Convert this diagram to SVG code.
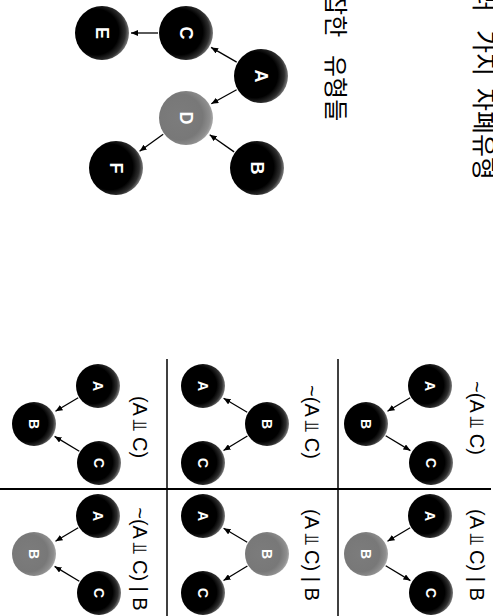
<svg xmlns="http://www.w3.org/2000/svg" width="493" height="616" viewBox="0 0 493 616">
<style>
.lbl{font-family:"Liberation Sans","DejaVu Sans",Arial,sans-serif;fill:#fff;font-weight:bold;text-anchor:middle}
.big{font-size:18px}
.sm{font-size:14px}
.cap{font-family:"Liberation Sans","DejaVu Sans",sans-serif;font-size:20px;fill:#000;text-anchor:middle}
.kr{font-family:"Noto Sans CJK KR","Noto Sans",sans-serif;fill:#000}
.e{stroke:#000;stroke-width:1.3;fill:none;marker-end:url(#arr)}
.grid{stroke:#000;fill:none}
</style>
<defs>
<radialGradient id="gB" cx="0.4" cy="0.47" r="0.64" fx="0.36" fy="0.5">
<stop offset="0" stop-color="#000"/>
<stop offset="0.66" stop-color="#000"/>
<stop offset="0.84" stop-color="#2e2e2e"/>
<stop offset="1" stop-color="#a8a8a8"/>
</radialGradient>
<radialGradient id="gG" cx="0.4" cy="0.47" r="0.64" fx="0.36" fy="0.5">
<stop offset="0" stop-color="#7c7c7c"/>
<stop offset="0.66" stop-color="#787878"/>
<stop offset="0.86" stop-color="#8e8e8e"/>
<stop offset="1" stop-color="#bdbdbd"/>
</radialGradient>
<marker id="arr" markerUnits="userSpaceOnUse" markerWidth="8" markerHeight="6" refX="7" refY="3" orient="auto">
<path d="M0,0 L7,3 L0,6 z" fill="#000"/>
</marker>
</defs>

<g id="titles">
<text class="kr" font-size="25" transform="translate(475,0) rotate(90)"><tspan x="-34" y="0">여러</tspan><tspan x="30" y="0">가지</tspan><tspan x="88" y="0">자폐유형</tspan></text>
<text class="kr" font-size="24" transform="translate(327,0) rotate(90)"><tspan x="-29" y="0">복잡한</tspan><tspan x="55" y="0">유형들</tspan></text>
</g>

<g id="grid">
<line class="grid" x1="167" y1="359" x2="167" y2="616" stroke-width="1.5"/>
<line class="grid" x1="338" y1="359" x2="338" y2="616" stroke-width="1.5"/>
<line class="grid" x1="0" y1="489" x2="491" y2="489" stroke-width="2"/>
</g>

<g id="connectors">
<line class="e" x1="158" y1="33" x2="131" y2="33"/>
<line class="e" x1="236.7" y1="62.1" x2="211.1" y2="47.4"/>
<line class="e" x1="236.6" y1="89.7" x2="211.3" y2="103.8"/>
<line class="e" x1="234.1" y1="151.9" x2="209.7" y2="134.7"/>
<line class="e" x1="163.2" y1="134.3" x2="139.6" y2="151.2"/>
<line class="e" x1="410.2" y1="397.8" x2="387.5" y2="411.2"/>
<line class="e" x1="385.7" y1="435.8" x2="410.4" y2="450.6"/>
<line class="e" x1="410.2" y1="527.8" x2="387.5" y2="541.2"/>
<line class="e" x1="385.7" y1="565.8" x2="410.4" y2="580.6"/>
<line class="e" x1="247.2" y1="412.2" x2="223.6" y2="398.3"/>
<line class="e" x1="247.4" y1="436" x2="223.5" y2="450.5"/>
<line class="e" x1="247.2" y1="542.2" x2="223.6" y2="528.3"/>
<line class="e" x1="247.4" y1="566" x2="223.5" y2="580.5"/>
<line class="e" x1="78.2" y1="397.8" x2="55.5" y2="411.2"/>
<line class="e" x1="79.3" y1="451.2" x2="54.6" y2="436.4"/>
<line class="e" x1="78.2" y1="527.8" x2="55.5" y2="541.2"/>
<line class="e" x1="79.3" y1="581.2" x2="54.6" y2="566.4"/>
</g>

<g id="node-E"><circle cx="102" cy="33" r="27" fill="url(#gB)"/><text class="lbl big" x="102" y="33" dy="6.5" transform="rotate(90 102 33)">E</text></g>
<g id="node-C"><circle cx="186" cy="33" r="27" fill="url(#gB)"/><text class="lbl big" x="186" y="33" dy="6.5" transform="rotate(90 186 33)">C</text></g>
<g id="node-A"><circle cx="261" cy="76" r="27" fill="url(#gB)"/><text class="lbl big" x="261" y="76" dy="6.5" transform="rotate(90 261 76)">A</text></g>
<g id="node-D"><circle cx="186" cy="118" r="27" fill="url(#gG)"/><text class="lbl big" x="186" y="118" dy="6.5" transform="rotate(90 186 118)">D</text></g>
<g id="node-B"><circle cx="257" cy="168" r="27" fill="url(#gB)"/><text class="lbl big" x="257" y="168" dy="6.5" transform="rotate(90 257 168)">B</text></g>
<g id="node-F"><circle cx="116" cy="168" r="27" fill="url(#gB)"/><text class="lbl big" x="116" y="168" dy="6.5" transform="rotate(90 116 168)">F</text></g>

<g id="c31-A"><circle cx="430" cy="386" r="22" fill="url(#gB)"/><text class="lbl sm" x="430" y="386" dy="5" transform="rotate(90 430 386)">A</text></g>
<g id="c31-B"><circle cx="366" cy="424" r="22" fill="url(#gB)"/><text class="lbl sm" x="366" y="424" dy="5" transform="rotate(90 366 424)">B</text></g>
<g id="c31-C"><circle cx="431" cy="463" r="22" fill="url(#gB)"/><text class="lbl sm" x="431" y="463" dy="5" transform="rotate(90 431 463)">C</text></g>
<g id="c31-label"><text class="cap" x="470" y="418" transform="rotate(90 470 418)">~(A ⫫ C)</text></g>

<g id="c32-A"><circle cx="430" cy="516" r="22" fill="url(#gB)"/><text class="lbl sm" x="430" y="516" dy="5" transform="rotate(90 430 516)">A</text></g>
<g id="c32-B"><circle cx="366" cy="554" r="22" fill="url(#gG)"/><text class="lbl sm" x="366" y="554" dy="5" transform="rotate(90 366 554)">B</text></g>
<g id="c32-C"><circle cx="431" cy="593" r="22" fill="url(#gB)"/><text class="lbl sm" x="431" y="593" dy="5" transform="rotate(90 431 593)">C</text></g>
<g id="c32-label"><text class="cap" x="470" y="555" transform="rotate(90 470 555)">(A ⫫ C) | B</text></g>

<g id="c21-A"><circle cx="203" cy="386" r="22" fill="url(#gB)"/><text class="lbl sm" x="203" y="386" dy="5" transform="rotate(90 203 386)">A</text></g>
<g id="c21-B"><circle cx="267" cy="424" r="22" fill="url(#gB)"/><text class="lbl sm" x="267" y="424" dy="5" transform="rotate(90 267 424)">B</text></g>
<g id="c21-C"><circle cx="203" cy="463" r="22" fill="url(#gB)"/><text class="lbl sm" x="203" y="463" dy="5" transform="rotate(90 203 463)">C</text></g>
<g id="c21-label"><text class="cap" x="305" y="422" transform="rotate(90 305 422)">~(A ⫫ C)</text></g>

<g id="c22-A"><circle cx="203" cy="516" r="22" fill="url(#gB)"/><text class="lbl sm" x="203" y="516" dy="5" transform="rotate(90 203 516)">A</text></g>
<g id="c22-B"><circle cx="267" cy="554" r="22" fill="url(#gG)"/><text class="lbl sm" x="267" y="554" dy="5" transform="rotate(90 267 554)">B</text></g>
<g id="c22-C"><circle cx="203" cy="593" r="22" fill="url(#gB)"/><text class="lbl sm" x="203" y="593" dy="5" transform="rotate(90 203 593)">C</text></g>
<g id="c22-label"><text class="cap" x="305" y="555" transform="rotate(90 305 555)">(A ⫫ C) | B</text></g>

<g id="c11-A"><circle cx="98" cy="386" r="22" fill="url(#gB)"/><text class="lbl sm" x="98" y="386" dy="5" transform="rotate(90 98 386)">A</text></g>
<g id="c11-B"><circle cx="34" cy="424" r="22" fill="url(#gB)"/><text class="lbl sm" x="34" y="424" dy="5" transform="rotate(90 34 424)">B</text></g>
<g id="c11-C"><circle cx="99" cy="463" r="22" fill="url(#gB)"/><text class="lbl sm" x="99" y="463" dy="5" transform="rotate(90 99 463)">C</text></g>
<g id="c11-label"><text class="cap" x="133" y="427" transform="rotate(90 133 427)">(A ⫫ C)</text></g>

<g id="c12-A"><circle cx="98" cy="516" r="22" fill="url(#gB)"/><text class="lbl sm" x="98" y="516" dy="5" transform="rotate(90 98 516)">A</text></g>
<g id="c12-B"><circle cx="34" cy="554" r="22" fill="url(#gG)"/><text class="lbl sm" x="34" y="554" dy="5" transform="rotate(90 34 554)">B</text></g>
<g id="c12-C"><circle cx="99" cy="593" r="22" fill="url(#gB)"/><text class="lbl sm" x="99" y="593" dy="5" transform="rotate(90 99 593)">C</text></g>
<g id="c12-label"><text class="cap" x="133" y="559" transform="rotate(90 133 559)">~(A ⫫ C) | B</text></g>
</svg>
